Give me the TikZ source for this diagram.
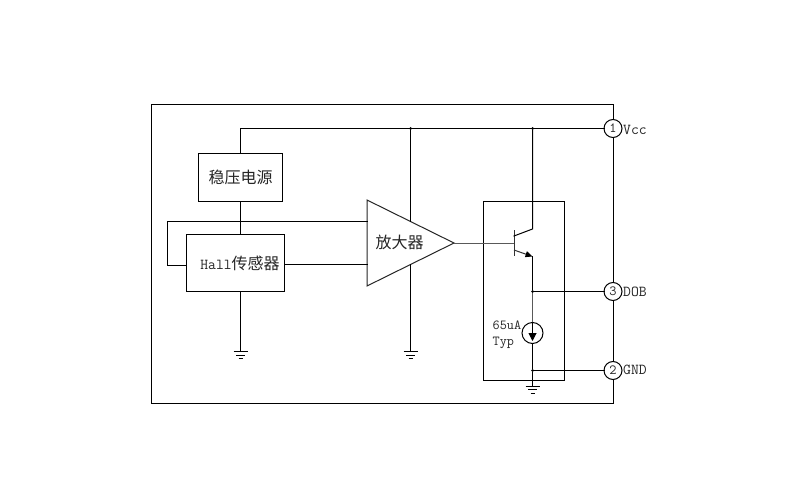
\documentclass[tikz,border=0pt]{standalone}
\usepackage{fontspec}
\setmainfont{Liberation Serif}
\setmonofont{Latin Modern Mono}
\newfontfamily\cjk{Noto Sans CJK SC}
\usetikzlibrary{arrows.meta}
\definecolor{ink}{gray}{0.15}
\tikzset{
  wire/.style={line width=1pt,black,line cap=rect},
  soft/.style={line width=1pt,black!65},
  block/.style={draw,line width=1pt,rectangle,inner sep=0pt,outer sep=0pt,text=ink,font=\cjk\fontsize{16}{18}\selectfont},
  pin/.style={draw,line width=1pt,circle,fill=white,minimum size=18pt,inner sep=0pt,outer sep=0pt,text=ink,font=\ttfamily\fontsize{14}{16}\selectfont},
  pinname/.style={anchor=west,inner sep=0pt,text=ink,font=\ttfamily\fontsize{15.2}{17}\selectfont},
  smalltext/.style={anchor=west,inner sep=0pt,text=ink,font=\ttfamily\fontsize{13.8}{16}\selectfont},
  junction/.style={circle,fill=black,inner sep=0pt,minimum size=3pt},
  groundsym/.pic={
    \draw[line width=1pt] (-7,0) -- (7,0);
    \draw[line width=1pt] (-4.5,3.5) -- (4.5,3.5);
    \draw[line width=1pt] (-2,7) -- (2,7);
  }
}
\begin{document}
\begin{tikzpicture}[x=1pt,y=-1pt]
\useasboundingbox (0,0) rectangle (800,500);
\fill[white] (0,0) rectangle (800,500);

% package outline
\draw[line width=1pt] (151.5,104.5) rectangle (613.5,403.5);

% functional blocks
\node[block,minimum width=84pt,minimum height=48pt] (reg) at (240.5,177.5) {稳压电源};
\node[block,minimum width=98pt,minimum height=57pt] (hall) at (235.5,263)
  {\hspace*{9pt}{\ttfamily\fontsize{15.2}{17}\selectfont Hall}传感器};

% amplifier triangle
\coordinate (ampTop) at (367,200);
\coordinate (ampBot) at (367,286);
\coordinate (ampOut) at (454,243);
\draw[line width=1pt,line join=miter,black!85] (ampTop) -- (ampOut) -- (ampBot) -- cycle;
\node[inner sep=0pt,text=ink,font=\cjk\fontsize{16}{18}\selectfont] (ampText) at (399.5,242) {放大器};
\coordinate (ampInA) at (367,221.5);
\coordinate (ampInB) at (367,264.5);
\coordinate (ampSupTop) at (410.5,221.5);
\coordinate (ampSupBot) at (410.5,264.5);

% transistor stage enclosure
\draw[line width=1pt] (483.5,201.5) rectangle (564.5,380.5);

% pins
\node[pin] (p1) at (613,128.5) {1};
\node[pin] (p3) at (613,291.5) {3};
\node[pin] (p2) at (613,370.5) {2};
\node[pinname] (vcc) at (623,129.5) {Vcc};
\node[pinname] (dob) at (623,291.5) {DOB};
\node[pinname] (gnd) at (623,370) {GND};

% junctions on the rails
\node[junction] (jAmp) at (410.5,128.5) {};
\node[junction] (jCol) at (532.5,128.5) {};
\node[junction] (jDob) at (532.5,291.5) {};
\node[junction] (jGnd) at (532.5,370.5) {};
\coordinate (regTap) at (240.5,128.5);
\coordinate (loopA) at (167.5,221.5);
\coordinate (loopB) at (167.5,265.5);
\coordinate (gndHall) at (240.5,351.5);
\coordinate (gndAmp) at (410.5,351.5);
\coordinate (gndOut) at (532.5,386);

% supply rail and signal wiring
\draw[wire] (p1) -- (regTap) -- (reg.north -| regTap);
\draw[wire] (reg.south) -- (hall.north -| reg.south);
\draw[wire] (hall.south -| gndHall) -- (gndHall);
\draw[wire] (ampInA) -- (loopA) -- (loopB) -- (loopB -| hall.west);
\draw[wire] (hall.east |- ampInB) -- (ampInB);
\draw[wire] (jAmp) -- (ampSupTop);
\draw[wire] (ampSupBot) -- (gndAmp);
\pic at (gndHall) {groundsym};
\pic at (gndAmp) {groundsym};

% NPN output transistor
\coordinate (base) at (514,243);
\coordinate (colIn) at (514,236);
\coordinate (colOut) at (532.5,229);
\coordinate (emIn) at (514,250);
\coordinate (emOut) at (532.5,256.5);
\draw[soft] (ampOut) -- (base);
\draw[line width=1pt,black!80] (514,230) -- (514,255.5);
\draw[wire] (colIn) -- (colOut) -- (jCol);
\draw[line width=1pt,black!80,-{Triangle[length=7pt,width=6pt,color=black]}] (emIn) -- (emOut);
\draw[wire] (emOut) -- (jDob);

% current source
\node[draw,line width=1pt,circle,minimum size=21pt,inner sep=0pt,outer sep=0pt] (src) at (532.5,333) {};
\draw[soft] (jDob) -- (src.north);
\draw[wire,-{Triangle[length=8pt,width=8pt]}] (src.north) -- (532.5,341);
\draw[wire] (src.south) -- (jGnd);
\draw[wire] (jGnd) -- (gndOut);
\pic at (gndOut) {groundsym};
\node[smalltext] (iVal) at (492.5,325) {65uA};
\node[smalltext] (iTyp) at (492.5,343) {Typ};

% pin connections
\draw[wire] (jDob) -- (p3);
\draw[wire] (jGnd) -- (p2);
\end{tikzpicture}
\end{document}
